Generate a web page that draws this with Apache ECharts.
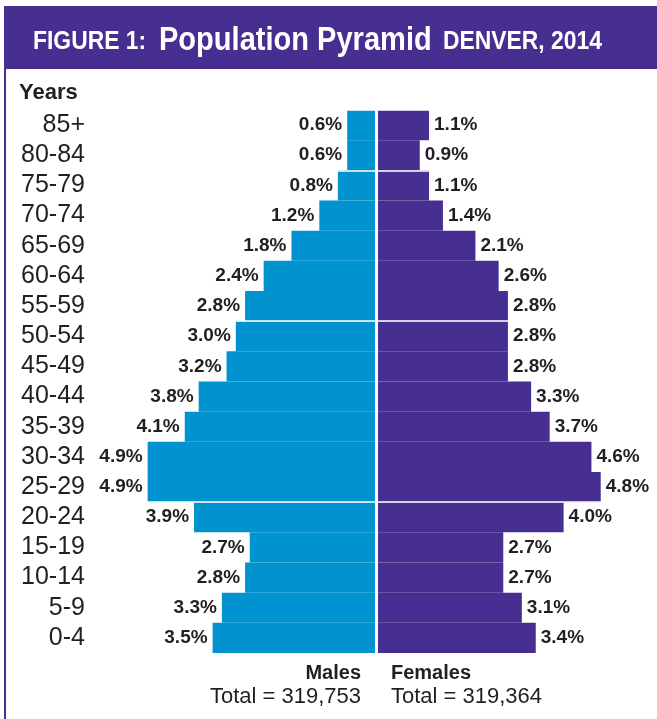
<!DOCTYPE html>
<html>
<head>
<meta charset="utf-8">
<script src="https://cdn.jsdelivr.net/npm/echarts@6/dist/echarts.min.js"></script>
<style>
html,body{margin:0;padding:0;background:#fff;}
#chart{width:657px;height:719px;}
</style>
</head>
<body>
<div id="chart"></div>
<script>
// Age groups, bottom to top
const categories = ['0-4','5-9','10-14','15-19','20-24','25-29','30-34','35-39','40-44','45-49','50-54','55-59','60-64','65-69','70-74','75-79','80-84','85+'];
// Percent of population
const maleValues =   [3.5, 3.3, 2.8, 2.7, 3.9, 4.9, 4.9, 4.1, 3.8, 3.2, 3.0, 2.8, 2.4, 1.8, 1.2, 0.8, 0.6, 0.6];
const femaleValues = [3.4, 3.1, 2.7, 2.7, 4.0, 4.8, 4.6, 3.7, 3.3, 2.8, 2.8, 2.8, 2.6, 2.1, 1.4, 1.1, 0.9, 1.1];
const seriesNames = ['Males', 'Females'];
const totals = ['Total = 319,753', 'Total = 319,364'];
const titleParts = ['FIGURE 1:', 'Population Pyramid', 'DENVER, 2014'];
const axisTitle = 'Years';
// category indices where a white separator line is drawn (lower boundary of category)
const separatorIdx = [5, 11, 16];

const MALE = '#0093d0';
const FEMALE = '#472e91';
const INK = '#231f20';
const SANS = '"Liberation Sans",Arial,sans-serif';

const chart = echarts.init(document.getElementById('chart'), null, {renderer: 'canvas'});

const gridTop = 110, gridH = 543;

function catAxis(gridIndex, showLabels) {
  return {
    type: 'category', gridIndex: gridIndex, data: categories, position: 'left',
    z: 5,
    axisLine: {show: false, onZero: false}, axisTick: {show: false},
    axisLabel: showLabels ? {show: true, interval: 0, margin: 58, fontFamily: SANS, fontSize: 25, color: INK} : {show: false},
    splitLine: {show: true, interval: function (i) { return separatorIdx.indexOf(i) >= 0; }, lineStyle: {color: '#ffffff', width: 1.5}}
  };
}

const labelStyle = {fontFamily: SANS, fontWeight: 'bold', fontSize: 19, color: INK, distance: 5,
  formatter: function (p) { return p.value.toFixed(1) + '%'; }};

function titleText(x, y, text, size) {
  return {type: 'text', x: x, y: y, scaleX: 0.88, originX: 0, originY: 0,
    style: {text: text, fill: '#fff', font: 'bold ' + size + 'px ' + SANS, textVerticalAlign: 'bottom'}};
}

chart.setOption({
  animation: false,
  backgroundColor: '#ffffff',
  grid: [
    {left: 143, top: gridTop, width: 232, height: gridH},
    {left: 378, top: gridTop, width: 232, height: gridH}
  ],
  xAxis: [
    {type: 'value', gridIndex: 0, min: 0, max: 5, inverse: true, show: false},
    {type: 'value', gridIndex: 1, min: 0, max: 5, show: false}
  ],
  yAxis: [catAxis(0, true), catAxis(1, false)],
  series: [
    {name: seriesNames[0], type: 'bar', xAxisIndex: 0, yAxisIndex: 0, data: maleValues, barCategoryGap: 0,
      itemStyle: {color: MALE}, label: Object.assign({show: true, position: 'left'}, labelStyle)},
    {name: seriesNames[1], type: 'bar', xAxisIndex: 1, yAxisIndex: 1, data: femaleValues, barCategoryGap: 0,
      itemStyle: {color: FEMALE}, label: Object.assign({show: true, position: 'right'}, labelStyle)}
  ],
  graphic: [
    {type: 'rect', shape: {x: 4, y: 6, width: 660, height: 63}, style: {fill: FEMALE}, silent: true},
    {type: 'rect', shape: {x: 4, y: 69, width: 2, height: 660}, style: {fill: FEMALE}, silent: true},
    titleText(33, 55, titleParts[0], 26),
    titleText(159, 57, titleParts[1], 33),
    titleText(443, 55, titleParts[2], 26),
    {type: 'text', x: 19, y: 93, style: {text: axisTitle, fill: INK, font: 'bold 22px ' + SANS, textVerticalAlign: 'middle'}},
    {type: 'text', x: 361, y: 673, style: {text: seriesNames[0], fill: INK, font: 'bold 20px ' + SANS, textAlign: 'right', textVerticalAlign: 'middle'}},
    {type: 'text', x: 391, y: 673, style: {text: seriesNames[1], fill: INK, font: 'bold 20px ' + SANS, textAlign: 'left', textVerticalAlign: 'middle'}},
    {type: 'text', x: 361, y: 697, style: {text: totals[0], fill: INK, font: '22px ' + SANS, textAlign: 'right', textVerticalAlign: 'middle'}},
    {type: 'text', x: 391, y: 697, style: {text: totals[1], fill: INK, font: '22px ' + SANS, textAlign: 'left', textVerticalAlign: 'middle'}}
  ]
});
</script>
</body>
</html>
